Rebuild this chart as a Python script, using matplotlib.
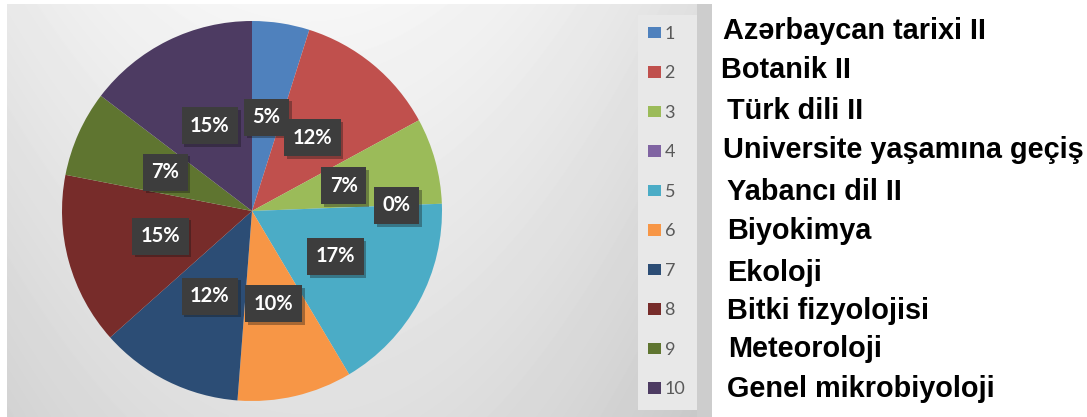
import numpy as np
import matplotlib.pyplot as plt
import matplotlib.patheffects as pe
from matplotlib.patches import Rectangle

# course names shown to the right of the legend
courses = ['Azərbaycan tarixi II', 'Botanik II', 'Türk dili II',
           'Universite yaşamına geçiş', 'Yabancı dil II', 'Biyokimya',
           'Ekoloji', 'Bitki fizyolojisi', 'Meteoroloji', 'Genel mikrobiyoloji']
legend_labels = [str(i) for i in range(1, 11)]
counts = [2, 5, 3, 0, 7, 4, 5, 6, 3, 6]
colors = ['#4F81BD', '#C0504D', '#9BBB59', '#8064A2', '#4BACC6',
          '#F79646', '#2C4D75', '#772C2A', '#5F7530', '#4D3B62']

W, H = 1087, 417
fig = plt.figure(figsize=(W / 100, H / 100), dpi=100)


def fx(px):
    return px / W


def fy(py):
    return 1 - py / H


# gray gradient behind the chart
bg = fig.add_axes([fx(7), 0, fx(712) - fx(7), 1 - 4 / H])
xx, yy = np.meshgrid(np.arange(705), np.arange(413))
grad = 246 - 22 * (yy / 413) - 24 * (np.abs(xx - 300) / 400) ** 2
bg.imshow(grad, cmap='gray', vmin=0, vmax=255, aspect='auto', interpolation='bilinear')
bg.axis('off')

# legend panel + darker strip at the right
fig.patches.append(Rectangle((fx(638), fy(410)), fx(697) - fx(638), (410 - 15) / H,
                             transform=fig.transFigure, facecolor='#e8e8e8', edgecolor='none'))
fig.patches.append(Rectangle((fx(697), 0), fx(712) - fx(697), 1 - 4 / H,
                             transform=fig.transFigure, facecolor='#cdcdcd', edgecolor='none'))

# pie
ax = fig.add_axes([fx(252 - 190), fy(211 + 190), fx(380), 380 / H])
wedges, texts, autotexts = ax.pie(
    counts, colors=colors, startangle=90, counterclock=False,
    autopct=lambda p: f'{p:.0f}%', pctdistance=0.5,
    wedgeprops=dict(linewidth=0),
    textprops=dict(color='white', family='Lato', weight='bold', fontsize=14.5))
ax.set_xlim(-1, 1)
ax.set_ylim(-1, 1)

for w, t, c in zip(wedges, autotexts, counts):
    t.set_bbox(dict(boxstyle='square,pad=0.42', facecolor='#3d3d3d', edgecolor='none'))
    t.get_bbox_patch().set_path_effects([pe.SimplePatchShadow(offset=(2, -2), alpha=0.35),
                                         pe.Normal()])
    if c == 0:
        # empty slice: push its label outwards like Excel does
        ang = np.deg2rad((w.theta1 + w.theta2) / 2)
        t.set_position((0.76 * np.cos(ang), 0.76 * np.sin(ang)))

fig.legend(wedges, legend_labels, loc='upper left', bbox_to_anchor=(fx(648), fy(26)),
           frameon=False, prop=dict(family='Lato', size=13), labelcolor='#595959',
           handlelength=0.72, handleheight=0.62, handletextpad=0.2,
           labelspacing=1.3, borderpad=0, borderaxespad=0)

# names next to the legend
name_x = [723, 721, 727, 723, 727, 727, 727, 727, 728, 727]
name_y = [39, 78, 119, 158, 200, 239, 281, 319, 357, 397]
for name, x, y in zip(courses, name_x, name_y):
    fig.text(fx(x), fy(y), name, fontsize=20.8, family='Liberation Sans',
             weight='bold', va='baseline', ha='left', color='black')

fig.savefig('out.png', dpi=100, facecolor='white')
